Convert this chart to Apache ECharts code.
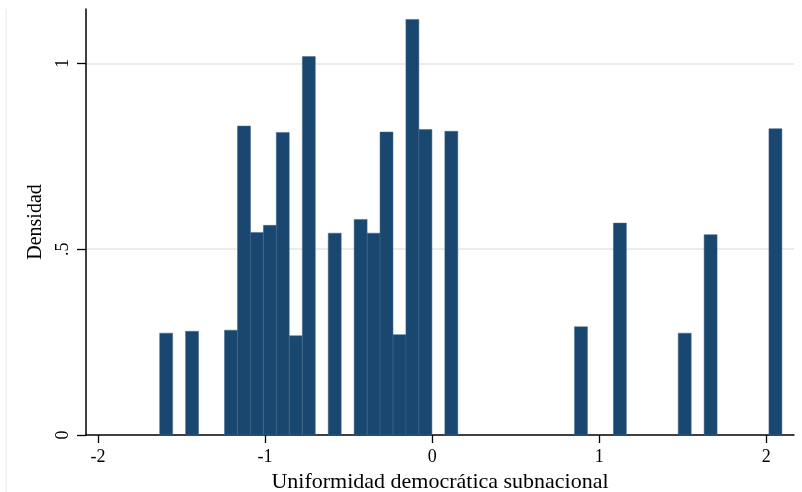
<!DOCTYPE html>
<html>
<head>
<meta charset="utf-8">
<script src="https://cdn.jsdelivr.net/npm/echarts@6/dist/echarts.min.js"></script>
<style>
html,body{margin:0;padding:0;background:#fff;}
#chart{width:802px;height:492px;}
</style>
</head>
<body>
<div id="chart"></div>
<script>
// Histogram bins: left edge of each non-empty bin and its density
const binWidth = 0.0776;
const binLeft = [-1.631, -1.476, -1.243, -1.165, -1.088, -1.010, -0.933, -0.855, -0.777,
                 -0.622, -0.467, -0.389, -0.312, -0.234, -0.157, -0.079, 0.076,
                 0.852, 1.085, 1.473, 1.628, 2.016];
const density = [0.274, 0.279, 0.282, 0.831, 0.545, 0.564, 0.814, 0.267, 1.018,
                 0.543, 0.580, 0.543, 0.815, 0.270, 1.118, 0.822, 0.817,
                 0.291, 0.570, 0.274, 0.539, 0.824];
const xTicks = [-2, -1, 0, 1, 2];
const yTicks = [0, 0.5, 1];
const yTickLabels = ['0', '.5', '1'];
const xTitle = 'Uniformidad democrática subnacional';
const yTitle = 'Densidad';

const data = binLeft.map((l, i) => [l, l + binWidth, density[i]]);
const font = 'Liberation Serif';

const chart = echarts.init(document.getElementById('chart'), null, {renderer: 'canvas'});
chart.setOption({
  animation: false,
  backgroundColor: '#ffffff',
  grid: {left: 86, right: 8, top: 9, bottom: 57, containLabel: false, outerBoundsMode: 'none'},
  graphic: [{
    type: 'line', shape: {x1: 6, y1: 9, x2: 6, y2: 492},
    style: {stroke: '#efefef', lineWidth: 1.5}, silent: true
  }],
  xAxis: {
    type: 'value', min: -2.072, max: 2.166,
    name: xTitle, nameLocation: 'middle', nameGap: 33,
    nameTextStyle: {fontFamily: font, fontSize: 22, color: '#000'},
    axisLine: {show: true, onZero: false, lineStyle: {color: '#000', width: 1.5}},
    axisTick: {show: true, customValues: xTicks, length: 8, lineStyle: {color: '#000', width: 1.3}},
    axisLabel: {customValues: xTicks, fontFamily: font, fontSize: 18, color: '#000', margin: 13,
      formatter: v => (v < 0 ? '-' + Math.abs(v) : String(v))},
    splitLine: {show: false}
  },
  yAxis: {
    type: 'value', min: 0, max: 1.146,
    name: yTitle, nameLocation: 'middle', nameGap: 38,
    nameTextStyle: {fontFamily: font, fontSize: 20, color: '#000'},
    axisLine: {show: true, onZero: false, lineStyle: {color: '#000', width: 1.5}},
    axisTick: {show: true, customValues: yTicks, length: 9, lineStyle: {color: '#000', width: 1.3}},
    axisLabel: {customValues: yTicks, rotate: 90, fontFamily: font, fontSize: 18, color: '#000', margin: 14,
      formatter: v => yTickLabels[yTicks.indexOf(v)] ?? ''},
    splitLine: {show: false}
  },
  series: [{
    type: 'custom',
    data: data,
    encode: {x: [0, 1], y: 2},
    renderItem: function (params, api) {
      const p0 = api.coord([api.value(0), 0]);
      const p1 = api.coord([api.value(1), api.value(2)]);
      return {
        type: 'rect',
        shape: {x: p0[0], y: p1[1], width: p1[0] - p0[0], height: p0[1] - p1[1]},
        style: {fill: '#1a476f', stroke: '#3f6688', lineWidth: 0.5}
      };
    },
    markLine: {
      silent: true, symbol: 'none', label: {show: false}, z: 0,
      lineStyle: {color: '#e6e6e6', width: 1.5, type: 'solid'},
      data: [{yAxis: 0.5}, {yAxis: 1}]
    },
    z: 2
  }]
});
</script>
</body>
</html>
